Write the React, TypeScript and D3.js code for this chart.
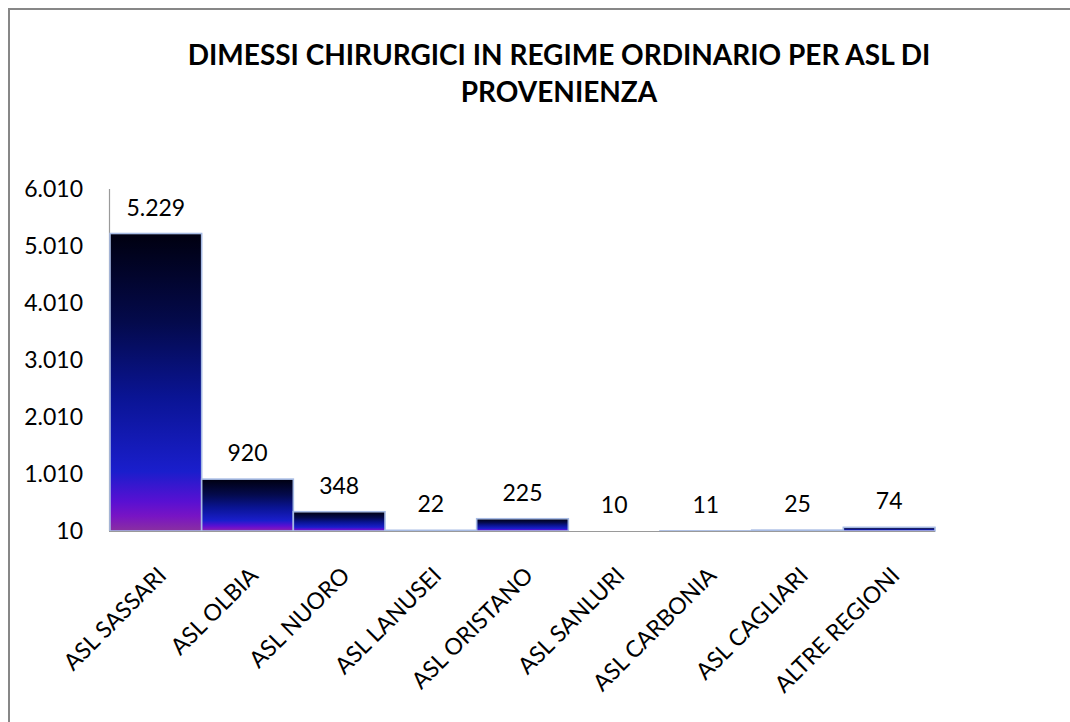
import React from 'react';
import * as d3 from 'd3';

const categories = [
  'ASL SASSARI',
  'ASL OLBIA',
  'ASL NUORO',
  'ASL LANUSEI',
  'ASL ORISTANO',
  'ASL SANLURI',
  'ASL CARBONIA',
  'ASL CAGLIARI',
  'ALTRE REGIONI',
];
const values = [5229, 920, 348, 22, 225, 10, 11, 25, 74];
const yTicks = [10, 1010, 2010, 3010, 4010, 5010, 6010];
const titleLines = ['DIMESSI CHIRURGICI IN REGIME ORDINARIO PER ASL DI', 'PROVENIENZA'];

const W = 1070;
const H = 722;
const FONT = 'Lato, "Open Sans", sans-serif';

const it = d3.formatLocale({ decimal: ',', thousands: '.', grouping: [3], currency: ['', '€'] });
const fmt = it.format(',d');

const App = () => {
  const x = d3.scaleBand<string>().domain(categories).range([110, 935]).padding(0);
  const y = d3.scaleLinear().domain([10, 6010]).range([531, 189]);

  return (
    <svg
      width={W}
      height={H}
      style={{ position: 'absolute', left: 0, top: 0, background: '#fff' }}
      fontFamily={FONT}
    >
      <defs>
        <linearGradient id="barGrad" x1="0" y1="0" x2="0" y2="1">
          <stop offset="0" stopColor="#000010" />
          <stop offset="0.3" stopColor="#040a4c" />
          <stop offset="0.55" stopColor="#0a1494" />
          <stop offset="0.8" stopColor="#1a1ecc" />
          <stop offset="0.9" stopColor="#5810d2" />
          <stop offset="0.95" stopColor="#7814c4" />
          <stop offset="1" stopColor="#8a30a0" />
        </linearGradient>
      </defs>

      {/* frame, the right and bottom sides fall outside the picture */}
      <rect x={9} y={9} width={W + 20} height={H + 20} fill="none" stroke="#878787" strokeWidth={2} />

      {titleLines.map((t, i) => (
        <text
          key={t}
          x={559}
          y={65 + i * 37}
          textAnchor="middle"
          fontSize={28}
          fontWeight="bold"
          fill="#000"
        >
          {t}
        </text>
      ))}

      {/* y axis */}
      <line x1={109.5} x2={109.5} y1={y(6010)} y2={y(10)} stroke="#9a9a9a" strokeWidth={1.2} />
      {yTicks.map((t) => (
        <text key={t} x={83} y={y(t) + 8} textAnchor="end" fontSize={23} fill="#000">
          {fmt(t)}
        </text>
      ))}

      {/* bars */}
      {categories.map((c, i) => (
        <rect
          key={c}
          x={x(c)!}
          y={y(values[i])}
          width={x.bandwidth()}
          height={y(10) - y(values[i])}
          fill="url(#barGrad)"
          stroke="#a7bbe4"
          strokeWidth={1.6}
        />
      ))}

      {/* baseline */}
      <line x1={109} x2={935} y1={531.5} y2={531.5} stroke="#9a9a9a" strokeWidth={1.2} />

      {/* value labels */}
      {categories.map((c, i) => (
        <text
          key={c}
          x={x(c)! + x.bandwidth() / 2}
          y={y(values[i]) - 18}
          textAnchor="middle"
          fontSize={23}
          fill="#000"
        >
          {fmt(values[i])}
        </text>
      ))}

      {/* category labels */}
      {categories.map((c) => (
        <text
          key={c}
          transform={`translate(${x(c)! + x.bandwidth() / 2 + 12},${577}) rotate(-45)`}
          textAnchor="end"
          fontSize={23}
          fill="#000"
        >
          {c}
        </text>
      ))}
    </svg>
  );
};

export default App;
